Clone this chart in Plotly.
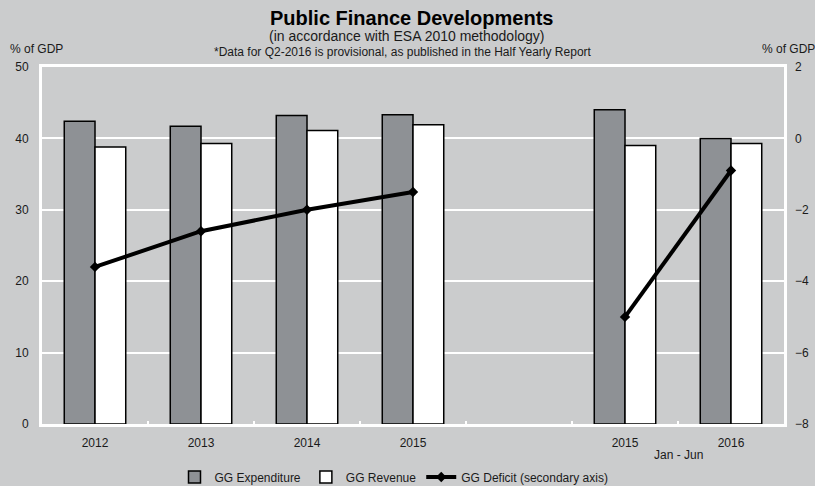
import plotly.graph_objects as go

# Categories (one blank slot separates annual data from the half-year data)
categories = ["2012", "2013", "2014", "2015", " ", "2015 H1", "2016"]
tick_labels = ["2012", "2013", "2014", "2015", "", "2015", "2016"]

# General government figures, % of GDP
expenditure = [42.4, 41.7, 43.2, 43.3, None, 44.0, 40.0]
revenue = [38.8, 39.3, 41.1, 41.9, None, 39.0, 39.3]
deficit = [-3.6, -2.6, -2.0, -1.5, None, -5.0, -0.9]

BG = "#cbcccd"
FONT = "Liberation Sans, Arial, sans-serif"
TXT = "#1a1a1a"

# plot area in pixels (for placing text around it)
W, H = 815, 486
L, R, T, B = 42, 31, 67, 62
PW, PH = W - L - R, H - T - B


def px_x(x):
    return (x - L) / PW


def px_y(y):
    return (H - B - y) / PH


fig = go.Figure()

fig.add_trace(go.Bar(
    x=categories, y=expenditure, name="GG Expenditure",
    marker=dict(color="#8e9195", line=dict(color="black", width=1.5)),
))
fig.add_trace(go.Bar(
    x=categories, y=revenue, name="GG Revenue",
    marker=dict(color="white", line=dict(color="black", width=1.5)),
))
fig.add_trace(go.Scatter(
    x=categories, y=deficit, name="GG Deficit (secondary axis)",
    yaxis="y2", mode="lines+markers", connectgaps=False,
    line=dict(color="black", width=4),
    marker=dict(symbol="diamond", size=8, color="black"),
))

fig.update_layout(
    width=W, height=H,
    margin=dict(l=L, r=R, t=T, b=B, autoexpand=False),
    paper_bgcolor=BG, plot_bgcolor=BG,
    font=dict(family=FONT, size=12, color=TXT),
    barmode="group", bargap=0.42, bargroupgap=0,
    showlegend=True,
    legend=dict(
        orientation="h", xref="container", x=394 / W, xanchor="center",
        yref="container", y=(H - 477) / H, yanchor="middle",
        font=dict(size=12, color=TXT), itemwidth=30, tracegroupgap=0,
        bgcolor="rgba(0,0,0,0)",
    ),
    xaxis=dict(
        type="category", tickvals=categories, ticktext=tick_labels,
        showgrid=False, showline=True, mirror=True, linecolor="white", linewidth=3,
        ticks="inside", tickson="boundaries", ticklen=3, tickcolor="white", tickwidth=2,
        tickfont=dict(size=12, color=TXT), zeroline=False, ticklabelstandoff=6,
    ),
    yaxis=dict(
        range=[0, 50], dtick=10, showgrid=True, gridcolor="white", gridwidth=2,
        showline=True, mirror=True, linecolor="white", linewidth=3,
        ticks="", zeroline=False, tickfont=dict(size=12, color=TXT),
        ticklabelstandoff=8,
    ),
    yaxis2=dict(
        range=[-8, 2], dtick=2, overlaying="y", side="right", anchor="x",
        showgrid=False, zeroline=False, showline=False, ticks="",
        tickfont=dict(size=12, color=TXT), ticklabelstandoff=10,
    ),
    annotations=[
        dict(text="<b>Public Finance Developments</b>", xref="paper", x=px_x(411),
             yref="paper", y=px_y(18), yanchor="middle", showarrow=False,
             font=dict(size=20, color="black")),
        dict(text="(in accordance with ESA 2010 methodology)", xref="paper", x=px_x(407),
             yref="paper", y=px_y(36), yanchor="middle", showarrow=False,
             font=dict(size=14, color=TXT)),
        dict(text="*Data for Q2-2016 is provisional, as published in the Half Yearly Report",
             xref="paper", x=px_x(403), yref="paper", y=px_y(52), yanchor="middle",
             showarrow=False, font=dict(size=12, color=TXT)),
        dict(text="% of GDP", xref="paper", x=px_x(8), xanchor="left",
             yref="paper", y=px_y(49), yanchor="middle", showarrow=False,
             font=dict(size=12, color=TXT)),
        dict(text="% of GDP", xref="paper", x=px_x(817), xanchor="right",
             yref="paper", y=px_y(49), yanchor="middle", showarrow=False,
             font=dict(size=12, color=TXT)),
        dict(text="Jan - Jun", xref="x", x=5.5, yref="paper", y=px_y(455.5),
             yanchor="middle", showarrow=False, font=dict(size=12, color=TXT)),
    ],
)

fig.write_html("out.html")
